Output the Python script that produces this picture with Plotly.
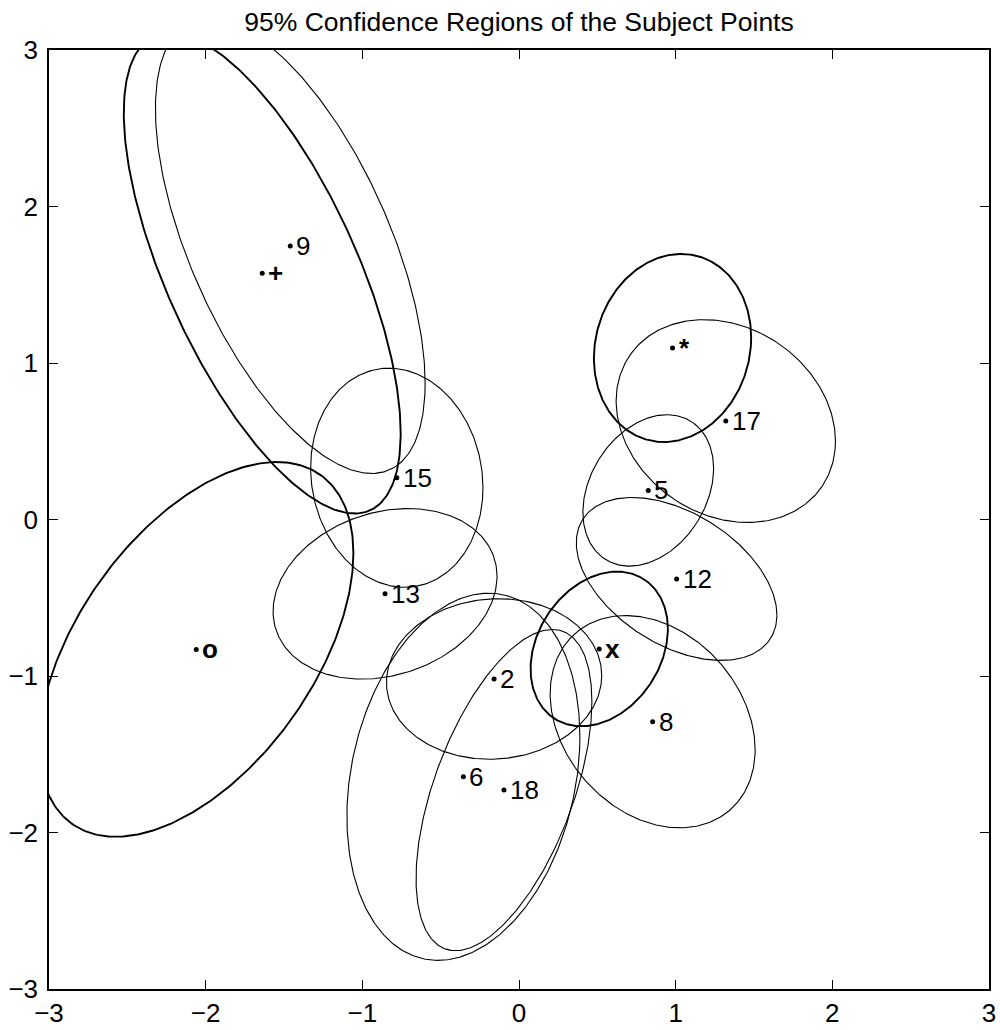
import numpy as np
import plotly.graph_objects as go

# ---- data ----
point_labels = ["+", "9", "o", "15", "13", "*", "17", "5", "12", "x", "8", "2", "6", "18"]
center_x = [-1.639, -1.460, -2.060, -0.780, -0.855, 0.980, 1.320, 0.825, 1.006, 0.512, 0.853, -0.159, -0.355, -0.096]
center_y = [1.574, 1.747, -0.830, 0.267, -0.475, 1.096, 0.629, 0.186, -0.380, -0.827, -1.292, -1.019, -1.644, -1.729]
# scaled covariance entries of each 95% region (xx, yy, xy)
cov_xx = [0.781, 0.741, 1.006, 0.3025, 0.511, 0.252, 0.490, 0.174, 0.410, 0.192, 0.428, 0.472, 0.553, 0.315]
cov_yy = [2.359, 2.111, 1.433, 0.490, 0.297, 0.361, 0.420, 0.234, 0.271, 0.244, 0.460, 0.263, 1.376, 1.053]
cov_xy = [-0.905, -0.755, 0.616, -0.035, 0.080, 0.033, -0.090, 0.058, -0.148, 0.056, -0.117, 0.015, 0.190, 0.317]
group_points = {"+", "o", "*", "x"}

tick_vals = [-3, -2, -1, 0, 1, 2, 3]
tick_text = ["\u22123", "\u22122", "\u22121", "0", "1", "2", "3"]

FONT = "Liberation Sans, Arial, Helvetica, sans-serif"

fig = go.Figure()

t = np.linspace(0, 2 * np.pi, 361)
circle = np.vstack([np.cos(t), np.sin(t)])
for lab, cx, cy, sxx, syy, sxy in zip(point_labels, center_x, center_y, cov_xx, cov_yy, cov_xy):
    L = np.linalg.cholesky(np.array([[sxx, sxy], [sxy, syy]]))
    pts = L @ circle
    fig.add_trace(go.Scatter(
        x=cx + pts[0], y=cy + pts[1], mode="lines",
        line=dict(color="black", width=1.9 if lab in group_points else 1.1),
        hoverinfo="skip", showlegend=False))

fig.add_trace(go.Scatter(
    x=center_x, y=center_y, mode="markers",
    marker=dict(color="black", size=5), showlegend=False, hoverinfo="skip"))

for lab, cx, cy in zip(point_labels, center_x, center_y):
    bold = lab in group_points
    fig.add_annotation(
        x=cx, y=cy, text=f"<b>{lab}</b>" if bold else lab, showarrow=False,
        xanchor="left", yanchor="middle", xshift=4,
        font=dict(family=FONT, size=26, color="black"))

axis_common = dict(
    range=[-3, 3], tickvals=tick_vals, ticktext=tick_text,
    ticks="inside", ticklen=9, tickwidth=1, tickcolor="black",
    showline=True, linecolor="black", linewidth=1.5, mirror="ticks",
    showgrid=False, zeroline=False, automargin=False,
    tickfont=dict(family=FONT, size=26, color="black"),
)

fig.update_layout(
    template="none",
    width=1000, height=1030,
    margin=dict(l=49, r=11, t=50, b=41, autoexpand=False),
    paper_bgcolor="white", plot_bgcolor="white",
    xaxis=dict(**axis_common),
    yaxis=dict(**axis_common, ticklabelstandoff=4),
    title=dict(text="95% Confidence Regions of the Subject Points",
               x=0.519, xanchor="center", y=1 - 22 / 1030, yanchor="middle",
               font=dict(family=FONT, size=26.5, color="black")),
)

fig.write_html("out.html")
